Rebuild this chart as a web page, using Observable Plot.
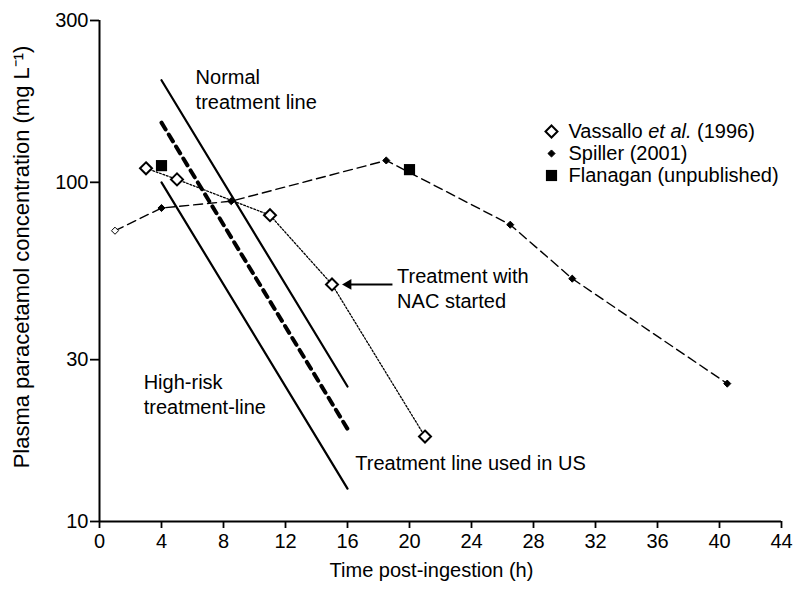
<!DOCTYPE html>
<html><head><meta charset="utf-8">
<script src="https://cdn.jsdelivr.net/npm/d3@7"></script>
<script src="https://cdn.jsdelivr.net/npm/@observablehq/plot@0.6"></script>
<style>
body{margin:0;background:#fff;}
#chart svg{font-family:"Liberation Sans",Arial,Helvetica,sans-serif;background:#fff;}
</style>
</head><body><div id="chart"></div>
<script>
// ---- data ----
const treatTime = [4, 16];
const normalConc = [200, 25];
const highRiskConc = [100, 12.5];
const usConc = [150, 18.75];
const vassalloTime = [3, 5, 11, 15, 21];
const vassalloConc = [110, 102, 80, 50, 17.8];
const spillerTime = [1, 4, 8.5, 18.5, 26.5, 30.5, 40.5];
const spillerConc = [72, 84, 88, 116, 75, 52, 25.5];
const flanaganTime = [4, 20];
const flanaganConc = [112, 109];
const xTicks = [0, 4, 8, 12, 16, 20, 24, 28, 32, 36, 40, 44];
const yTicks = [10, 30, 100, 300];
const legendLabels = ["Vassallo et al. (1996)", "Spiller (2001)", "Flanagan (unpublished)"];
const xTitle = "Time post-ingestion (h)";
const yTitle = "Plasma paracetamol concentration (mg L\u207B\u00B9)";
const notes = [
  {text: "Normal\ntreatment line", t: 6.2, c: 189},
  {text: "High-risk\ntreatment-line", t: 2.85, c: 23.8},
  {text: "Treatment with\nNAC started", t: 19.2, c: 49},
  {text: "Treatment line used in US", t: 16.5, c: 15}
];
const arrowTail = {t: 18.9, c: 50};
const arrowHead = {t: 16.05, c: 50};

// ---- tables ----
const zip = (xs, ys) => xs.map((x, i) => ({t: x, c: ys[i]}));
const normal = zip(treatTime, normalConc);
const highRisk = zip(treatTime, highRiskConc);
const us = zip(treatTime, usConc);
const vassallo = zip(vassalloTime, vassalloConc);
const spiller = zip(spillerTime, spillerConc);
const flanagan = zip(flanaganTime, flanaganConc);

const diamond = {draw(ctx, size){const r = Math.sqrt(size) * 0.62625; ctx.moveTo(0,-r); ctx.lineTo(r,0); ctx.lineTo(0,r); ctx.lineTo(-r,0); ctx.closePath();}};

const FS = 20;
const legendMarks = [];
const legendSyms = [
  {symbol: diamond, r: 5.4, fill: "white", stroke: "black", strokeWidth: 2},
  {symbol: diamond, r: 3.2, fill: "black", stroke: "black", strokeWidth: 1},
  {symbol: "square", r: 6.3, fill: "black", stroke: "none"}
];
legendLabels.forEach((lab, i) => {
  legendMarks.push(Plot.dot([lab], {frameAnchor: "top-left", dx: 452, dy: 111 + 22 * i, ...legendSyms[i]}));
  legendMarks.push(Plot.text([lab], {text: d => d, frameAnchor: "top-left", dx: 469, dy: 111 + 22 * i, textAnchor: "start", lineAnchor: "middle", fontSize: FS, fill: "black"}));
});

const chart = Plot.plot({
  width: 794, height: 593,
  marginLeft: 99, marginRight: 13, marginTop: 20, marginBottom: 72,
  x: {domain: [0, 44]},
  y: {type: "log", domain: [10, 300]},
  style: {fontSize: FS + "px", color: "black"},
  marks: [
    Plot.line(normal, {x: "t", y: "c", stroke: "black", strokeWidth: 2.2}),
    Plot.line(highRisk, {x: "t", y: "c", stroke: "black", strokeWidth: 2.2}),
    Plot.line(us, {x: "t", y: "c", stroke: "black", strokeWidth: 4, strokeDasharray: "8,6"}),
    Plot.line(vassallo, {x: "t", y: "c", stroke: "black", strokeWidth: 1.3, strokeDasharray: "1.8,1.8"}),
    Plot.line(spiller, {x: "t", y: "c", stroke: "black", strokeWidth: 1.4, strokeDasharray: "9,5"}),
    Plot.link([arrowTail], {x1: "t", y1: "c", x2: () => arrowHead.t, y2: () => arrowHead.c, stroke: "black", strokeWidth: 2}),
    Plot.dot([arrowHead], {x: "t", y: "c", symbol: "triangle", r: 4, fill: "black", rotate: -90}),
    Plot.dot(vassallo, {x: "t", y: "c", symbol: diamond, r: 5.4, fill: "white", stroke: "black", strokeWidth: 2}),
    Plot.dot(spiller, {x: "t", y: "c", symbol: diamond, r: 3.2, fill: (d, i) => i === 0 ? "white" : "black", stroke: "black", strokeWidth: 1}),
    Plot.dot(flanagan, {x: "t", y: "c", symbol: "square", r: 6.3, fill: "black"}),
    ...notes.map(n => Plot.text([n], {x: "t", y: "c", text: "text", textAnchor: "start", lineAnchor: "middle", lineHeight: 1.26, fontSize: FS, fill: "black"})),
    ...legendMarks,
    Plot.axisX({ticks: xTicks, tickFormat: d => String(d), tickSize: 7, tickPadding: 5, strokeWidth: 1.8, fontSize: FS, label: null}),
    Plot.axisY({ticks: yTicks, tickFormat: d => String(d), tickSize: 9, tickPadding: 2, strokeWidth: 1.8, fontSize: FS, label: null}),
    Plot.ruleX([0], {stroke: "black", strokeWidth: 2}),
    Plot.ruleY([10], {stroke: "black", strokeWidth: 2}),
    Plot.text([xTitle], {text: d => d, frameAnchor: "bottom", dx: -9, dy: 55, fontSize: FS, fill: "black"}),
    Plot.text([yTitle], {text: d => d, frameAnchor: "left", textAnchor: "middle", dx: -78, dy: -14, rotate: -90, fontSize: 22, fill: "black"})
  ]
});
document.getElementById("chart").appendChild(chart);

// italic "et al."
chart.querySelectorAll("text, tspan").forEach(el => {
  if (el.children.length === 0 && el.textContent === legendLabels[0]) {
    el.textContent = "";
    const parts = [["Vassallo ", null], ["et al.", "italic"], [" (1996)", null]];
    parts.forEach(([s, st]) => {
      const t = document.createElementNS("http://www.w3.org/2000/svg", "tspan");
      t.textContent = s;
      if (st) t.setAttribute("font-style", st);
      el.appendChild(t);
    });
  }
});
</script>
</body></html>
